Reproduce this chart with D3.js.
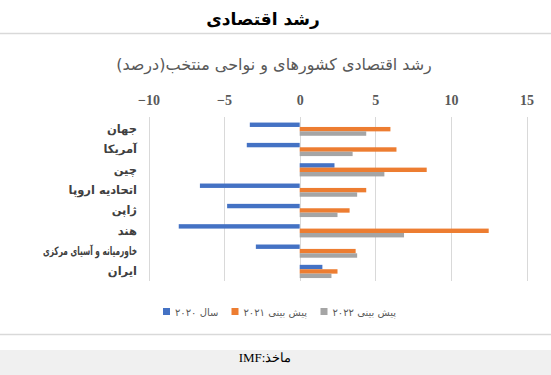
<!DOCTYPE html>
<html><head><meta charset="utf-8">
<script src="https://cdn.jsdelivr.net/npm/d3@7"></script>
<style>html,body{margin:0;padding:0;background:#fff;} svg{display:block;}</style>
</head><body>
<svg id="chart" width="551" height="375"></svg>
<script>
const categories = ["جهان","آمریکا","چین","اتحادیه اروپا","ژاپن","هند","خاورمیانه و آسیای مرکزی","ایران"];
const values2020 = [-3.3, -3.5, 2.3, -6.6, -4.8, -8.0, -2.9, 1.5];
const values2021 = [6.0, 6.4, 8.4, 4.4, 3.3, 12.5, 3.7, 2.5];
const values2022 = [4.4, 3.5, 5.6, 3.8, 2.5, 6.9, 3.8, 2.1];
const seriesNames = ["سال ۲۰۲۰","پیش بینی ۲۰۲۱","پیش بینی ۲۰۲۲"];
const seriesColors = ["#4472C4","#ED7D31","#A5A5A5"];
const xTicks = [-10,-5,0,5,10,15];
const titleText = "رشد اقتصادی";
const subtitleText = "رشد اقتصادی کشورهای و نواحی منتخب(درصد)";
const sourceText = "ماخذ:IMF";

const series = [values2020, values2021, values2022];
const svg = d3.select("#chart");
const W = 551, H = 375;
const arFont = "Tahoma, 'DejaVu Sans', sans-serif";

// title
svg.append("text").attr("x",263).attr("y",25).attr("text-anchor","middle")
  .attr("font-family",arFont).attr("font-weight","bold").attr("font-size",17)
  .attr("fill","#000").text(titleText);
svg.append("line").attr("x1",0).attr("x2",W).attr("y1",33.5).attr("y2",33.5)
  .attr("stroke","#d9d9d9").attr("stroke-width",1.5);

// subtitle
svg.append("text").attr("x",274).attr("y",70).attr("text-anchor","middle")
  .attr("direction","rtl")
  .attr("font-family",arFont).attr("font-size",16).attr("fill","#595959").text(subtitleText);

const x = d3.scaleLinear().domain([-10,15]).range([148.5,526.5]);
const y = d3.scaleBand().domain(categories).range([119,281.6]).paddingInner(0.35).paddingOuter(0.175);
const ySub = d3.scaleBand().domain([0,1,2]).range([0,y.bandwidth()]).padding(0);

// axis (top)
const axis = d3.axisTop(x).tickValues(xTicks).tickSize(0).tickPadding(0);
const gAxis = svg.append("g").attr("transform","translate(0,105)").call(axis);
gAxis.select(".domain").remove();
gAxis.selectAll("text").attr("font-family","'Liberation Serif', serif").attr("font-weight","bold")
  .attr("font-size",14).attr("fill","#595959").attr("dy",0);

// gridlines
svg.append("g").selectAll("line").data(xTicks).join("line")
  .attr("x1",d=>Math.round(x(d))+0.5).attr("x2",d=>Math.round(x(d))+0.5)
  .attr("y1",117).attr("y2",281).attr("stroke","#d9d9d9").attr("stroke-width",1);

// bars
const groups = svg.append("g").selectAll("g").data(categories).join("g")
  .attr("transform",d=>`translate(0,${y(d)})`);
groups.each(function(cat,i){
  const g = d3.select(this);
  series.forEach((vals,s)=>{
    const v = vals[i];
    g.append("rect").attr("x",x(Math.min(0,v))).attr("width",Math.abs(x(v)-x(0)))
      .attr("y",ySub(s)).attr("height",ySub.bandwidth()).attr("fill",seriesColors[s]);
  });
});

// category labels
svg.append("g").selectAll("text").data(categories).join("text")
  .attr("x",137).attr("y",d=>y(d)+y.bandwidth()/2+4).attr("text-anchor","end")
  .attr("font-family",arFont).attr("font-weight","bold").attr("font-size",11.5)
  .attr("fill","#404040").text(d=>d)
  .each(function(){
    const w = this.getComputedTextLength();
    if (w > 94) d3.select(this).attr("textLength",94).attr("lengthAdjust","spacingAndGlyphs");
  });

// legend
const legendX = [163, 231.5, 320.5];
const lg = svg.append("g");
seriesNames.forEach((name,s)=>{
  lg.append("rect").attr("x",legendX[s]).attr("y",308).attr("width",7).attr("height",7).attr("fill",seriesColors[s]);
  const t = lg.append("text").attr("x",0).attr("y",316).attr("text-anchor","middle").attr("direction","rtl")
    .attr("font-family",arFont).attr("font-size",10).attr("fill","#595959").text(name);
  const w = t.node().getComputedTextLength();
  t.attr("x", legendX[s]+12+w/2);
});

// bottom separator and footer
svg.append("line").attr("x1",0).attr("x2",W).attr("y1",334.5).attr("y2",334.5)
  .attr("stroke","#d9d9d9").attr("stroke-width",1.5);
svg.append("rect").attr("x",0).attr("y",350).attr("width",W).attr("height",25).attr("fill","#f0f0f0");
svg.append("text").attr("x",265).attr("y",362).attr("text-anchor","middle").attr("direction","rtl")
  .attr("font-family","'Liberation Serif', 'DejaVu Serif', serif").attr("font-size",13).attr("fill","#000").text(sourceText);
</script>
</body></html>
